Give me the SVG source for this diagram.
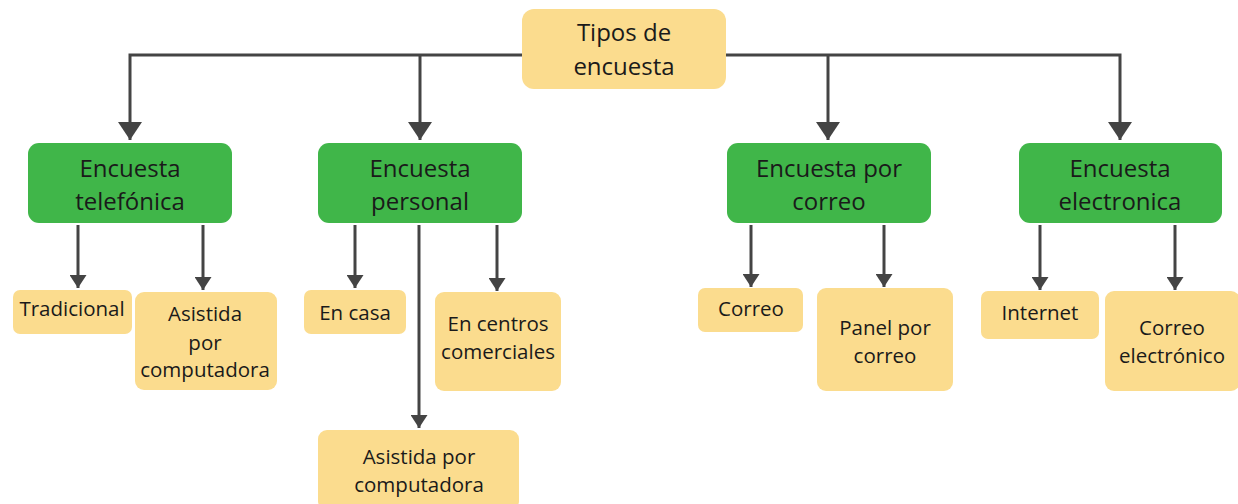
<svg xmlns="http://www.w3.org/2000/svg" width="1238" height="504" viewBox="0 0 1238 504">
<defs>
<style>
.y{fill:#fbdc8e}
.g{fill:#40b649}
.t{font-family:"Open Sans","Noto Sans","Liberation Sans",sans-serif;fill:#1a1a1a;text-anchor:middle}
.big{font-size:24px}
.sm{font-size:20.5px}
.c{fill:none;stroke:#444;stroke-width:3}
</style>
<marker id="ab" viewBox="0 0 18 24" refX="18" refY="12" markerWidth="18" markerHeight="24" markerUnits="userSpaceOnUse" orient="auto">
<path d="M0,0 L18,12 L0,24 Z" fill="#444"/>
</marker>
<marker id="as" viewBox="0 0 13 17" refX="13" refY="8.5" markerWidth="13" markerHeight="17" markerUnits="userSpaceOnUse" orient="auto">
<path d="M0,0 L13,8.5 L0,17 Z" fill="#444"/>
</marker>
</defs>
<rect width="1238" height="504" fill="#fff"/>
<g id="connectors">
<path class="c" d="M522,55 H130 V140" marker-end="url(#ab)"/>
<path class="c" d="M420,55 V140" marker-end="url(#ab)"/>
<path class="c" d="M726,55 H1120 V140" marker-end="url(#ab)"/>
<path class="c" d="M828,55 V140" marker-end="url(#ab)"/>
<path class="c" d="M78,225 V288" marker-end="url(#as)"/>
<path class="c" d="M203,225 V290" marker-end="url(#as)"/>
<path class="c" d="M355,225 V288" marker-end="url(#as)"/>
<path class="c" d="M419,225 V428" marker-end="url(#as)"/>
<path class="c" d="M497,225 V291" marker-end="url(#as)"/>
<path class="c" d="M751,225 V287" marker-end="url(#as)"/>
<path class="c" d="M884,225 V287" marker-end="url(#as)"/>
<path class="c" d="M1040,225 V290" marker-end="url(#as)"/>
<path class="c" d="M1175,225 V290" marker-end="url(#as)"/>
</g>
<g id="n-root">
<rect class="y" x="522" y="9" width="204" height="80" rx="12"/>
<text class="t big" x="624" y="41">Tipos de</text>
<text class="t big" x="624" y="75">encuesta</text>
</g>
<g id="n-tel">
<rect class="g" x="28" y="143" width="204" height="80" rx="11"/>
<text class="t big" x="130" y="177">Encuesta</text>
<text class="t big" x="130" y="210">telefónica</text>
</g>
<g id="n-per">
<rect class="g" x="318" y="143" width="204" height="80" rx="11"/>
<text class="t big" x="420" y="177">Encuesta</text>
<text class="t big" x="420" y="210">personal</text>
</g>
<g id="n-cor">
<rect class="g" x="727" y="143" width="204" height="80" rx="11"/>
<text class="t big" x="829" y="177">Encuesta por</text>
<text class="t big" x="829" y="210">correo</text>
</g>
<g id="n-ele">
<rect class="g" x="1019" y="143" width="203" height="80" rx="11"/>
<text class="t big" x="1120" y="177">Encuesta</text>
<text class="t big" x="1120" y="210">electronica</text>
</g>
<g id="n-trad">
<rect class="y" x="13" y="290" width="119" height="44" rx="7"/>
<text class="t sm" x="72" y="316">Tradicional</text>
</g>
<g id="n-asis1">
<rect class="y" x="135" y="292" width="142" height="98" rx="9"/>
<text class="t sm" x="205" y="321">Asistida</text>
<text class="t sm" x="205" y="350">por</text>
<text class="t sm" x="205" y="377">computadora</text>
</g>
<g id="n-casa">
<rect class="y" x="304" y="290" width="102" height="44" rx="7"/>
<text class="t sm" x="355" y="320">En casa</text>
</g>
<g id="n-centros">
<rect class="y" x="435" y="292" width="126" height="99" rx="9"/>
<text class="t sm" x="498" y="331">En centros</text>
<text class="t sm" x="498" y="359">comerciales</text>
</g>
<g id="n-asis2">
<rect class="y" x="318" y="430" width="201" height="80" rx="9"/>
<text class="t sm" x="419" y="464">Asistida por</text>
<text class="t sm" x="419" y="492">computadora</text>
</g>
<g id="n-correo">
<rect class="y" x="698" y="288" width="105" height="44" rx="7"/>
<text class="t sm" x="751" y="316">Correo</text>
</g>
<g id="n-panel">
<rect class="y" x="817" y="288" width="136" height="103" rx="9"/>
<text class="t sm" x="885" y="335">Panel por</text>
<text class="t sm" x="885" y="363">correo</text>
</g>
<g id="n-internet">
<rect class="y" x="981" y="291" width="118" height="48" rx="7"/>
<text class="t sm" x="1040" y="320">Internet</text>
</g>
<g id="n-correoe">
<rect class="y" x="1105" y="291" width="135" height="100" rx="9"/>
<text class="t sm" x="1172" y="335">Correo</text>
<text class="t sm" x="1172" y="363">electrónico</text>
</g>
</svg>
